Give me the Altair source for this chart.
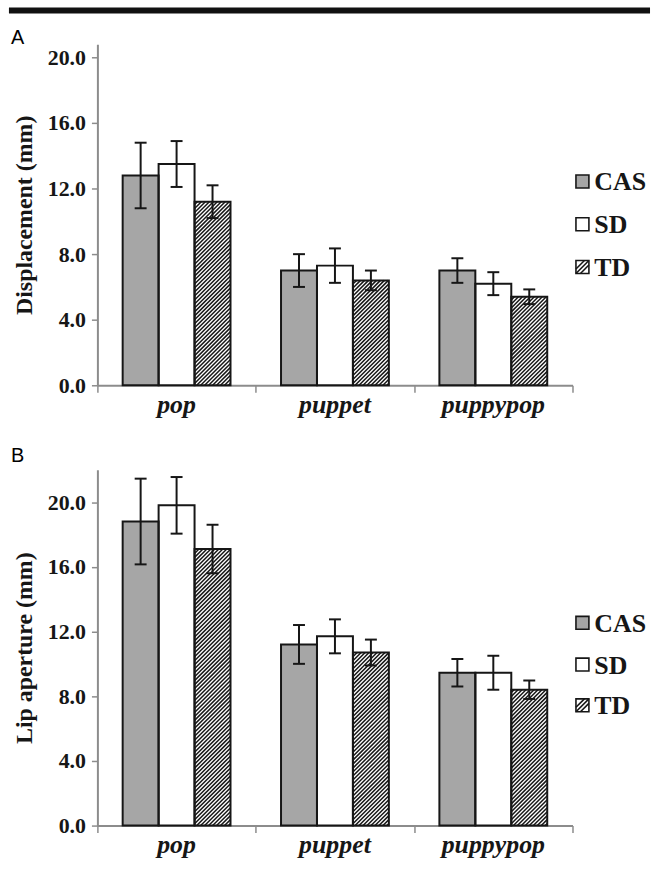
import altair as alt
import pandas as pd

categories = ["pop", "puppet", "puppypop"]
groups = ["CAS", "SD", "TD"]

# Panel A: Displacement (mm)
disp_CAS = [12.8, 7.0, 7.0]
disp_SD = [13.5, 7.3, 6.2]
disp_TD = [11.2, 6.4, 5.4]
disp_CAS_err = [2.0, 1.0, 0.75]
disp_SD_err = [1.4, 1.05, 0.7]
disp_TD_err = [1.0, 0.6, 0.45]

# Panel B: Lip aperture (mm)
lip_CAS = [18.8, 11.2, 9.45]
lip_SD = [19.8, 11.7, 9.45]
lip_TD = [17.1, 10.7, 8.4]
lip_CAS_err = [2.65, 1.2, 0.85]
lip_SD_err = [1.75, 1.05, 1.05]
lip_TD_err = [1.5, 0.8, 0.57]

y_ticks = [0, 4, 8, 12, 16, 20]

# layout / style constants
W = 478
BW = 0.227
OFF = (1 - 3 * BW) / 2
CAP = 6.0
HATCH = 4.0
SERIF = "Liberation Serif"
DARK = "#161616"
GRAY_AX = "#8c8c8c"
FILLS = {"CAS": "#a6a6a6", "SD": "#ffffff", "TD": "#ffffff"}


def panel(vals, errs, ymax, height, ytitle, letter, letter_y, legend_y, top_bar):
    kx = W / 3.0
    ky = height / ymax
    rows = []
    hatch = []
    for j, g in enumerate(groups):
        for i, c in enumerate(categories):
            x0 = i + OFF + j * BW
            xc = x0 + BW / 2
            v = vals[g][i]
            e = errs[g][i]
            rows.append(dict(cat=c, group=g, x0=x0, x1=x0 + BW, xc=xc, v=v, zero=0.0,
                             lo=v - e, hi=v + e, c0=xc - CAP / kx, c1=xc + CAP / kx))
            if g == "TD":
                wpx = BW * kx
                hpx = v * ky
                cc = -wpx + HATCH / 2
                while cc < hpx:
                    xs = max(0.0, -cc)
                    xe = min(wpx, hpx - cc)
                    if xe > xs:
                        hatch.append(dict(hx0=x0 + xs / kx, hy0=(xs + cc) / ky,
                                          hx1=x0 + xe / kx, hy1=(xe + cc) / ky))
                    cc += HATCH
    df = pd.DataFrame(rows)
    dh = pd.DataFrame(hatch)
    dcat = pd.DataFrame({"cat": categories, "pos": [i + 0.5 for i in range(3)]})

    xscale = alt.Scale(domain=[0, 3], nice=False, zero=False)
    yscale = alt.Scale(domain=[0, ymax], nice=False)
    xaxis = alt.Axis(values=[0, 1, 2, 3], labels=False, title="", grid=False,
                     tickSize=7, tickColor=GRAY_AX, tickWidth=1.5,
                     domainColor=GRAY_AX, domainWidth=2)
    yaxis = alt.Axis(values=y_ticks, format=".1f", title=ytitle, grid=False,
                     labelFont=SERIF, labelFontWeight="bold", labelFontSize=22,
                     labelColor=DARK, labelPadding=6, tickSize=6,
                     tickColor=GRAY_AX, tickWidth=1.5, domainColor=GRAY_AX,
                     domainWidth=2, titleFont=SERIF, titleFontSize=24,
                     titleFontWeight="bold", titleColor=DARK, titlePadding=11)

    def X(f):
        return alt.X(f, scale=xscale, axis=xaxis)

    def Y(f):
        return alt.Y(f, scale=yscale, axis=yaxis)

    base = alt.Chart(df)
    bars = base.mark_rect(strokeWidth=0).encode(
        x=X("x0:Q"), x2="x1:Q", y=Y("v:Q"), y2="zero:Q",
        color=alt.Color("group:N", scale=alt.Scale(domain=groups,
                        range=[FILLS[g] for g in groups]), legend=None),
    )
    hatch_layer = alt.Chart(dh).mark_rule(color=DARK, strokeWidth=1.5).encode(
        x=X("hx0:Q"), x2="hx1:Q", y=Y("hy0:Q"), y2="hy1:Q",
    )
    outline = base.mark_rect(fillOpacity=0, stroke=DARK, strokeWidth=2).encode(
        x=X("x0:Q"), x2="x1:Q", y=Y("v:Q"), y2="zero:Q",
    )
    err_v = base.mark_rule(color=DARK, strokeWidth=2).encode(
        x=X("xc:Q"), y=Y("lo:Q"), y2="hi:Q",
    )
    cap_hi = base.mark_rule(color=DARK, strokeWidth=2).encode(
        x=X("c0:Q"), x2="c1:Q", y=Y("hi:Q"),
    )
    cap_lo = base.mark_rule(color=DARK, strokeWidth=2).encode(
        x=X("c0:Q"), x2="c1:Q", y=Y("lo:Q"),
    )
    cat_labels = alt.Chart(dcat).mark_text(
        font=SERIF, fontSize=26, fontWeight="bold", fontStyle="italic",
        color=DARK, baseline="alphabetic", align="center"
    ).encode(
        x=X("pos:Q"), y=alt.value(height + 28), text="cat:N",
    )

    one = pd.DataFrame({"k": [0]})
    layers = [bars, hatch_layer, outline, err_v, cap_hi, cap_lo, cat_labels]

    # legend (drawn beside the plot)
    LX = 488
    for g, ly in zip(groups, legend_y):
        layers.append(alt.Chart(one).mark_square(
            size=170, fill=FILLS[g], stroke=DARK, strokeWidth=1.6, opacity=1
        ).encode(x=alt.value(LX), y=alt.value(ly)))
        layers.append(alt.Chart(one).mark_text(
            text=g, font=SERIF, fontSize=26, fontWeight="bold", color=DARK,
            align="left", baseline="middle", dy=1
        ).encode(x=alt.value(LX + 12), y=alt.value(ly)))
    ty = legend_y[2]
    sw = 6.5
    for cc in [-4.5, 0.0, 4.5]:
        xs = max(-sw, -sw - cc)
        xe = min(sw, sw - cc)
        layers.append(alt.Chart(one).mark_rule(color=DARK, strokeWidth=1.6).encode(
            x=alt.value(LX + xs), y=alt.value(ty - (xs + cc)),
            x2=alt.value(LX + xe), y2=alt.value(ty - (xe + cc))))

    layers.append(alt.Chart(one).mark_text(
        text=letter, font="Liberation Sans", fontSize=20, color="#000000",
        align="left", baseline="alphabetic"
    ).encode(x=alt.value(-87), y=alt.value(letter_y)))

    if top_bar:
        layers.append(alt.Chart(one).mark_rule(color="#111111", strokeWidth=6).encode(
            x=alt.value(-89), x2=alt.value(556), y=alt.value(-34)
        ))
    return alt.layer(*layers).properties(width=W, height=height)


vals_a = {"CAS": disp_CAS, "SD": disp_SD, "TD": disp_TD}
errs_a = {"CAS": disp_CAS_err, "SD": disp_SD_err, "TD": disp_TD_err}
vals_b = {"CAS": lip_CAS, "SD": lip_SD, "TD": lip_TD}
errs_b = {"CAS": lip_CAS_err, "SD": lip_SD_err, "TD": lip_TD_err}

chart_a = panel(vals_a, errs_a, 20.8, 343, "Displacement (mm)", "A", 0,
                [138, 181, 224], True)
chart_b = panel(vals_b, errs_b, 22.0, 358, "Lip aperture (mm)", "B", -8,
                [154, 196, 237], False)

chart = alt.vconcat(chart_a, chart_b, spacing=28).properties(
    padding={"left": 6, "top": 5, "right": 0, "bottom": 0}
).configure_view(strokeWidth=0)

chart.save("out.html", embed_options={"renderer": "svg", "actions": False})
